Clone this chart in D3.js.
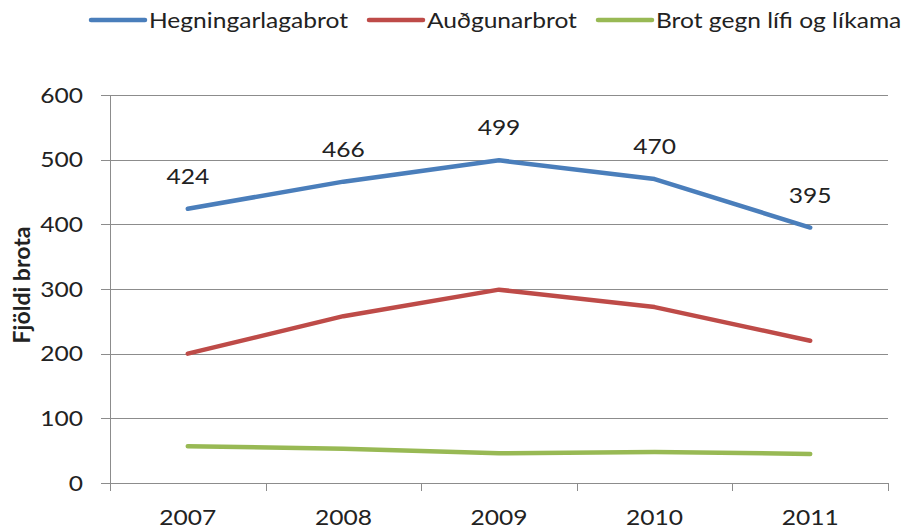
<!DOCTYPE html>
<html>
<head>
<meta charset="utf-8">
<script src="https://cdn.jsdelivr.net/npm/d3@7"></script>
<style>
  body { margin: 0; background: #fff; }
  text { font-family: Lato, "Open Sans", sans-serif; fill: #222; }
</style>
</head>
<body>
<div id="chart"></div>
<script>
var years = ["2007", "2008", "2009", "2010", "2011"];
var seriesNames = ["Hegningarlagabrot", "Auðgunarbrot", "Brot gegn lífi og líkama"];
var hegningar = [424, 466, 499, 470, 395];
var audgunar = [200, 258, 299, 272, 220];
var lifi = [57, 53, 46, 48, 45];
var yTicks = [0, 100, 200, 300, 400, 500, 600];
var colors = ["#4a7ebb", "#be4b48", "#98b954"];

// the source picture is stretched a bit horizontally
var sx = 1.17;
function place(x, y) { return "translate(" + x + "," + y + ") scale(" + sx + ",1)"; }

function init() {
    var W = 907, H = 531;
    var margin = { top: 95, right: 19, bottom: 48, left: 110 },
        width = W - margin.left - margin.right,
        height = H - margin.top - margin.bottom;

    var svg = d3.select("#chart").append("svg")
        .attr("width", W)
        .attr("height", H);

    var g = svg.append("g")
        .attr("transform", "translate(" + margin.left + "," + margin.top + ")");

    var x = d3.scaleBand().domain(years).range([0, width]);
    var y = d3.scaleLinear().domain([0, 600]).range([height, 0]);

    // gridlines
    g.selectAll(".grid")
        .data(yTicks)
        .enter().append("line")
        .attr("x1", -9).attr("x2", width)
        .attr("y1", d => Math.round(y(d)) + 0.5)
        .attr("y2", d => Math.round(y(d)) + 0.5)
        .attr("stroke", "#8c8c8c")
        .attr("stroke-width", 1);

    // y labels
    g.selectAll(".ylab")
        .data(yTicks)
        .enter().append("text")
        .attr("transform", d => place(-27, y(d)))
        .attr("dy", "0.36em")
        .attr("text-anchor", "end")
        .style("font-size", "21px")
        .text(d => d);

    // y axis line
    g.append("line")
        .attr("x1", 0.5).attr("x2", 0.5)
        .attr("y1", 0).attr("y2", height + 8)
        .attr("stroke", "#8c8c8c");

    // x ticks
    var xEdges = years.map(d => x(d)).concat([width]);
    g.selectAll(".xtick")
        .data(xEdges)
        .enter().append("line")
        .attr("x1", d => Math.round(d) + 0.5).attr("x2", d => Math.round(d) + 0.5)
        .attr("y1", height).attr("y2", height + 8)
        .attr("stroke", "#8c8c8c");

    g.selectAll(".xlab")
        .data(years)
        .enter().append("text")
        .attr("transform", d => place(x(d) + x.bandwidth() / 2, height + 42))
        .attr("text-anchor", "middle")
        .style("font-size", "21px")
        .text(d => d);

    // axis title
    svg.append("text")
        .attr("transform", "translate(30," + (margin.top + height / 2 - 4) + ") rotate(-90)")
        .attr("text-anchor", "middle")
        .style("font-size", "23px")
        .style("font-weight", "bold")
        .text("Fjöldi brota");

    var allSeries = [hegningar, audgunar, lifi];
    var line = d3.line()
        .x((d, i) => x(years[i]) + x.bandwidth() / 2)
        .y(d => y(d));

    g.selectAll(".series")
        .data(allSeries)
        .enter().append("path")
        .attr("d", d => line(d))
        .attr("fill", "none")
        .attr("stroke", (d, i) => colors[i])
        .attr("stroke-width", 4.5)
        .attr("stroke-linejoin", "round")
        .attr("stroke-linecap", "round");

    // data labels for the first series
    g.selectAll(".dlab")
        .data(hegningar)
        .enter().append("text")
        .attr("transform", (d, i) => place(x(years[i]) + x.bandwidth() / 2, y(d) - 25))
        .attr("text-anchor", "middle")
        .style("font-size", "21px")
        .text(d => d);

    // legend
    var legendX = [91, 369, 598];
    var legend = svg.selectAll(".legend")
        .data(seriesNames)
        .enter().append("g")
        .attr("transform", (d, i) => "translate(" + legendX[i] + ",20)");

    legend.append("line")
        .attr("x1", 0).attr("x2", 54)
        .attr("y1", 0).attr("y2", 0)
        .attr("stroke", (d, i) => colors[i])
        .attr("stroke-width", 4.5)
        .attr("stroke-linecap", "round");

    legend.append("text")
        .attr("transform", place(58, 0))
        .attr("dy", "0.36em")
        .style("font-size", "21px")
        .text(d => d);
}

window.onload = init;
</script>
</body>
</html>
